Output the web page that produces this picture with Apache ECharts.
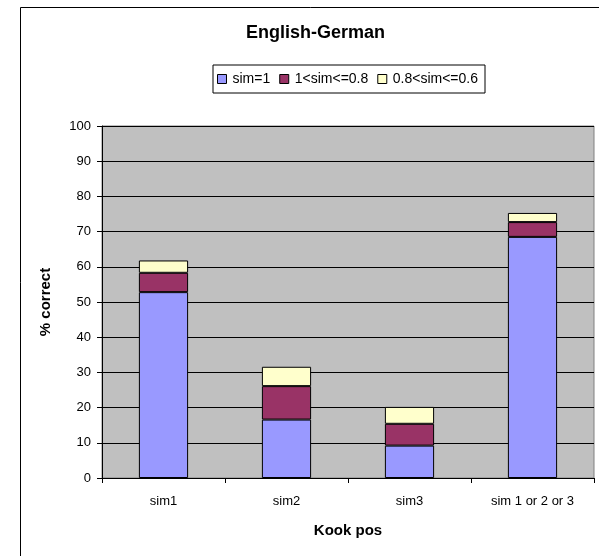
<!DOCTYPE html>
<html>
<head>
<meta charset="utf-8">
<script src="https://cdn.jsdelivr.net/npm/echarts@6/dist/echarts.min.js"></script>
<style>
  html, body { margin: 0; padding: 0; background: #ffffff; }
  #chart { width: 599px; height: 556px; }
</style>
</head>
<body>
<div id="chart"></div>
<script>
// Share of correct answers per Kook position, stacked by similarity band
const categories = ['sim1', 'sim2', 'sim3', 'sim 1 or 2 or 3'];
const simEq1 = [52.8, 16.6, 9.2, 68.5];
const sim1to08 = [5.5, 9.5, 6.2, 4.2];
const sim08to06 = [3.5, 5.5, 4.8, 2.6];
const seriesNames = ['sim=1', '1<sim<=0.8', '0.8<sim<=0.6'];
const yTicks = [0, 10, 20, 30, 40, 50, 60, 70, 80, 90, 100];

const colors = ['#9999FF', '#993366', '#FFFFCC'];
const font = 'Arial, "Liberation Sans", sans-serif';

const chart = echarts.init(document.getElementById('chart'), null, { renderer: 'canvas' });

function barSeries(name, data, color) {
  return {
    name: name,
    type: 'bar',
    stack: 'total',
    data: data,
    barWidth: '40%',
    itemStyle: { color: color, borderColor: '#000000', borderWidth: 1 },
    emphasis: { disabled: true }
  };
}

chart.setOption({
  animation: false,
  backgroundColor: '#ffffff',
  textStyle: { fontFamily: font },
  title: {
    text: 'English-German',
    left: 246,
    top: 24,
    padding: 0,
    textStyle: { fontFamily: font, fontSize: 18, fontWeight: 'bold', color: '#000000' }
  },
  legend: {
    data: seriesNames,
    left: 213,
    top: 65,
    orient: 'horizontal',
    icon: 'rect',
    itemWidth: 9,
    itemHeight: 9,
    itemGap: 9,
    padding: [7, 7, 7, 4],
    borderColor: '#000000',
    borderWidth: 1,
    selectedMode: false,
    textStyle: { fontFamily: font, fontSize: 14, color: '#000000', padding: [0, 0, 0, 1] },
    itemStyle: { borderColor: '#000000', borderWidth: 1 }
  },
  grid: {
    left: 102,
    right: 5,
    top: 126,
    bottom: 78,
    show: true,
    backgroundColor: '#C0C0C0',
    borderColor: '#808080',
    borderWidth: 1
  },
  xAxis: {
    type: 'category',
    data: categories,
    name: 'Kook pos',
    nameLocation: 'middle',
    nameGap: 45,
    nameTextStyle: { fontFamily: font, fontSize: 15, fontWeight: 'bold', color: '#000000' },
    axisLine: { show: true, lineStyle: { color: '#000000', width: 1 } },
    axisTick: { show: true, length: 5, alignWithLabel: false, lineStyle: { color: '#000000' } },
    axisLabel: { fontFamily: font, fontSize: 13, color: '#000000', margin: 17 },
    splitLine: { show: false }
  },
  yAxis: {
    type: 'value',
    min: yTicks[0],
    max: yTicks[yTicks.length - 1],
    interval: yTicks[1] - yTicks[0],
    name: '% correct',
    nameLocation: 'middle',
    nameGap: 49,
    nameTextStyle: { fontFamily: font, fontSize: 15, fontWeight: 'bold', color: '#000000' },
    axisLine: { show: true, lineStyle: { color: '#000000', width: 1 } },
    axisTick: { show: true, length: 5, lineStyle: { color: '#000000' } },
    axisLabel: { fontFamily: font, fontSize: 13, color: '#000000', margin: 11 },
    splitLine: { show: true, lineStyle: { color: '#000000', width: 1 } }
  },
  graphic: [
    {
      type: 'rect',
      shape: { x: 20.5, y: 7.5, width: 640, height: 600 },
      style: { fill: null, stroke: '#000000', lineWidth: 1 },
      silent: true,
      z: -1
    }
  ],
  series: [
    barSeries(seriesNames[0], simEq1, colors[0]),
    barSeries(seriesNames[1], sim1to08, colors[1]),
    barSeries(seriesNames[2], sim08to06, colors[2])
  ]
});
</script>
</body>
</html>
